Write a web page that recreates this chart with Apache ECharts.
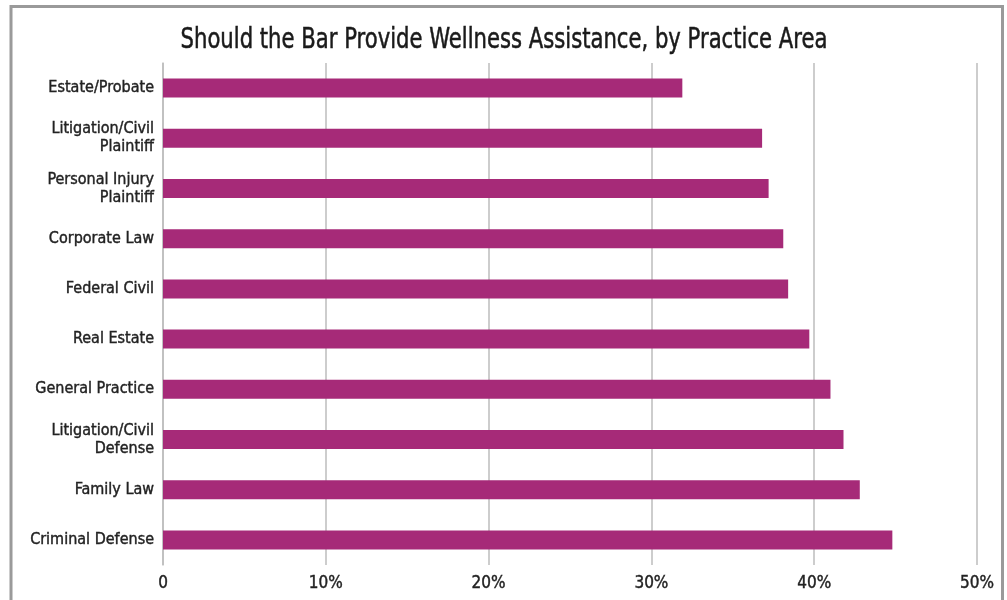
<!DOCTYPE html>
<html>
<head>
<meta charset="utf-8">
<script src="https://cdn.jsdelivr.net/npm/echarts@6/dist/echarts.min.js"></script>
<style>
  html, body { margin: 0; padding: 0; background: #fff; }
  #chart { width: 1007px; height: 600px; }
</style>
</head>
<body>
<div id="chart"></div>
<script>
// Practice areas, top to bottom
const practiceAreas = [
  'Estate/Probate',
  'Litigation/Civil\nPlaintiff',
  'Personal Injury\nPlaintiff',
  'Corporate Law',
  'Federal Civil',
  'Real Estate',
  'General Practice',
  'Litigation/Civil\nDefense',
  'Family Law',
  'Criminal Defense'
];

// Share answering yes, in percent
const yesShare = [31.9, 36.8, 37.2, 38.1, 38.4, 39.7, 41.0, 41.8, 42.8, 44.8];

const titleText = 'Should the Bar Provide Wellness Assistance, by Practice Area';

const FONT = '"Liberation Sans Narrow", "DejaVu Sans Condensed", "Roboto", sans-serif';

const chart = echarts.init(document.getElementById('chart'), null, { renderer: 'canvas' });

chart.setOption({
  backgroundColor: '#ffffff',
  animation: false,
  graphic: [
    {
      type: 'rect',
      shape: { x: 11, y: 6.5, width: 991.5, height: 620 },
      style: { fill: 'none', stroke: '#9a9a9a', lineWidth: 3 },
      silent: true
    },
    {
      // condensed headline, narrowed horizontally around its centre
      type: 'text',
      x: 504,
      y: 41,
      scaleX: 0.84,
      style: {
        text: titleText,
        fontFamily: FONT,
        fontSize: 28,
        fill: '#1a1a1a',
        stroke: '#1a1a1a',
        lineWidth: 0.5,
        align: 'center',
        verticalAlign: 'middle'
      },
      silent: true
    }
  ],
  grid: { left: 163, right: 30, top: 63, height: 502, containLabel: false },
  xAxis: {
    type: 'value',
    min: 0,
    max: 50,
    interval: 10,
    axisLine: { show: false },
    axisTick: { show: false },
    splitLine: { show: true, lineStyle: { color: '#bdbdbd', width: 1.5 } },
    axisLabel: {
      margin: 10,
      fontFamily: FONT,
      fontSize: 17,
      color: '#222',
      textBorderColor: '#222',
      textBorderWidth: 0.4,
      formatter: v => (v === 0 ? '0' : v + '%')
    }
  },
  yAxis: {
    type: 'category',
    data: practiceAreas,
    inverse: true,
    axisLine: { show: true, lineStyle: { color: '#bdbdbd', width: 1.5 } },
    axisTick: { show: false },
    axisLabel: {
      margin: 9,
      fontFamily: FONT,
      fontSize: 16,
      lineHeight: 18,
      color: '#222',
      textBorderColor: '#222',
      textBorderWidth: 0.4,
      align: 'right'
    }
  },
  series: [{
    type: 'bar',
    data: yesShare,
    barWidth: 19,
    itemStyle: { color: '#a62a78' }
  }]
});
</script>
</body>
</html>
